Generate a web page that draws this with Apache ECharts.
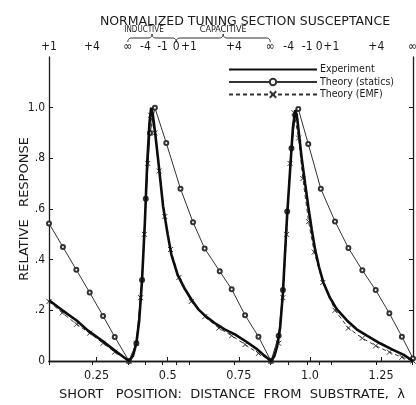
<!DOCTYPE html>
<html><head><meta charset="utf-8">
<script src="https://cdn.jsdelivr.net/npm/echarts@6/dist/echarts.min.js"></script>
<style>html,body{margin:0;padding:0;background:#fff}#c{width:416px;height:405px}</style>
</head><body><div id="c"></div>
<script>
// ---- data ----
const expX = [0.083,0.13,0.18,0.22,0.27,0.31,0.34,0.364,0.378,0.39,0.40,0.41,0.42,0.428,0.436,0.442,0.448,0.456,0.466,0.484,0.50,0.513,0.535,0.56,0.585,0.607,0.635,0.665,0.70,0.736,0.778,0.81,0.836,0.863,
  0.875,0.885,0.895,0.905,0.912,0.92,0.93,0.94,0.948,0.955,0.963,0.971,0.983,0.994,1.006,1.018,1.032,1.047,1.07,1.094,1.13,1.164,1.2,1.246,1.29,1.328,1.362];
const expY = [0.24,0.20,0.16,0.12,0.08,0.045,0.02,0.0,0.02,0.07,0.16,0.32,0.55,0.78,0.94,1.0,0.97,0.9,0.8,0.61,0.5,0.42,0.34,0.285,0.24,0.205,0.175,0.15,0.125,0.105,0.075,0.05,0.025,0.0,
  0.02,0.06,0.13,0.27,0.42,0.58,0.75,0.92,0.99,0.96,0.88,0.8,0.7,0.61,0.52,0.44,0.37,0.31,0.25,0.205,0.16,0.125,0.1,0.07,0.045,0.025,0.0];

const staticsX = [0.083,0.132,0.179,0.226,0.273,0.314,0.364,0.39,0.41,0.423,0.438,0.455,0.495,0.545,0.589,0.63,0.683,0.725,0.772,0.819,0.863,
  0.89,0.905,0.92,0.935,0.948,0.959,0.994,1.038,1.088,1.135,1.184,1.231,1.279,1.323,1.362];
const staticsY = [0.543,0.45,0.36,0.27,0.178,0.095,0.0,0.07,0.32,0.64,0.9,1.0,0.861,0.68,0.548,0.444,0.354,0.283,0.181,0.096,0.0,
  0.1,0.28,0.59,0.84,0.97,0.995,0.857,0.68,0.551,0.446,0.358,0.28,0.188,0.096,0.01];

const emfX = [0.083,0.13,0.18,0.226,0.273,0.314,0.364,0.39,0.405,0.418,0.43,0.44,0.455,0.47,0.49,0.51,0.54,0.583,0.63,0.68,0.725,0.772,0.819,0.863,
  0.89,0.905,0.918,0.93,0.944,0.96,0.975,0.995,1.015,1.045,1.088,1.135,1.184,1.231,1.279,1.323,1.362];
const emfY = [0.235,0.19,0.145,0.11,0.07,0.035,0.0,0.07,0.25,0.5,0.78,0.97,0.9,0.75,0.57,0.44,0.33,0.235,0.175,0.13,0.1,0.065,0.03,0.0,
  0.07,0.25,0.5,0.78,0.98,0.88,0.72,0.55,0.43,0.31,0.2,0.13,0.09,0.06,0.035,0.015,0.0];

const bottomTicks = [0.25,0.5,0.75,1.0,1.25];
const bottomLabels = ['0.25','0.5','0.75','1.0','1.25'];
const yTicks = [0,0.2,0.4,0.6,0.8,1.0];
const yLabels = ['0','.2','.4','.6','.8','1.0'];
const topTicks = [0.083,0.234,0.36,0.422,0.482,0.53,0.575,0.733,0.86,0.925,0.99,1.032,1.075,1.233,1.36];
const topLabels = ['+1','+4','\u221E','-4','-1','0','+1','+4','\u221E','-4','-1','0','+1','+4','\u221E'];
const inductiveSpan = [0.36,0.53];
const capacitiveSpan = [0.53,0.86];

const X_MIN = 0.083, X_MAX = 1.362, Y_MIN = 0, Y_MAX = 1.2;
const FONT = '"DejaVu Sans Condensed", "DejaVu Sans", sans-serif';
const WIDE = '"DejaVu Sans", sans-serif';
const INK = '#1a1a1a';
const THIN = '#333333';

function pairs(xs, ys){ return xs.map((x,i)=>[x, ys[i]]); }
function lookup(vals, labels, v){ for(let i=0;i<vals.length;i++){ if(Math.abs(vals[i]-v)<1e-6) return labels[i]; } return ''; }

const chart = echarts.init(document.getElementById('c'), null, {renderer:'canvas'});
const axisCommon = {
  axisLine:{show:true, lineStyle:{color:INK, width:1.3}},
  splitLine:{show:false}
};
chart.setOption({
  animation:false,
  backgroundColor:'#fff',
  title:{text:'NORMALIZED TUNING SECTION SUSCEPTANCE', left:240, top:10, textAlign:'center',
    textStyle:{fontFamily:WIDE, fontSize:12.5, fontWeight:'normal', color:INK}},
  grid:{left:49, right:3, top:57, bottom:44, containLabel:false, outerBoundsMode:'none'},
  legend:{
    orient:'vertical', left:228, top:64, padding:0, itemWidth:88, itemHeight:8, itemGap:1.5,
    textStyle:{fontFamily:FONT, fontSize:10.5, color:INK, padding:[0,0,0,-2]},
    data:[{name:'Experiment', itemStyle:{opacity:0}},'Theory (statics)','Theory (EMF)']
  },
  xAxis:[
    Object.assign({type:'value', position:'bottom', min:X_MIN, max:X_MAX,
      name:'SHORT   POSITION:  DISTANCE  FROM  SUBSTRATE,  \u03BB', nameLocation:'middle', nameGap:27,
      nameTextStyle:{fontFamily:WIDE, fontSize:13, color:INK, padding:[0,0,0,2]},
      axisTick:{show:true, inside:true, length:4, customValues:bottomTicks, lineStyle:{color:INK}},
      axisLabel:{show:true, customValues:bottomTicks, margin:8, fontFamily:FONT, fontSize:12.5, color:INK,
        formatter:(v)=>lookup(bottomTicks,bottomLabels,v)}
    }, axisCommon),
    Object.assign({type:'value', position:'top', min:X_MIN, max:X_MAX,
      axisTick:{show:true, inside:true, length:4, customValues:topTicks, lineStyle:{color:INK}},
      axisLabel:{show:true, customValues:topTicks, margin:4, fontFamily:FONT, fontSize:12, color:INK,
        showMinLabel:true, showMaxLabel:true, hideOverlap:false,
        formatter:(v)=>lookup(topTicks,topLabels,v)}
    }, axisCommon)
  ],
  yAxis:[
    Object.assign({type:'value', position:'left', min:Y_MIN, max:Y_MAX,
      name:'RELATIVE   RESPONSE', nameLocation:'middle', nameGap:18, nameRotate:90, nameMoveOverlap:false,
      nameTextStyle:{fontFamily:WIDE, fontSize:13, color:INK},
      axisTick:{show:true, inside:true, length:4, customValues:yTicks, lineStyle:{color:INK}},
      axisLabel:{show:true, customValues:yTicks, margin:4, fontFamily:FONT, fontSize:12, color:INK,
        formatter:(v)=>lookup(yTicks,yLabels,v)}
    }, axisCommon),
    Object.assign({type:'value', position:'right', min:Y_MIN, max:Y_MAX,
      axisTick:{show:true, inside:true, length:4, customValues:yTicks, lineStyle:{color:INK}},
      axisLabel:{show:false}
    }, axisCommon)
  ],
  series:[
    {name:'Experiment', type:'line', data:pairs(expX,expY), showSymbol:false, symbol:'none',
      lineStyle:{color:'#0d0d0d', width:2.6}, itemStyle:{color:'#0d0d0d'}, z:4},
    {name:'Theory (statics)', type:'line', data:pairs(staticsX,staticsY), symbol:'emptyCircle', symbolSize:4,
      showSymbol:true, showAllSymbol:true, lineStyle:{color:THIN, width:1},
      itemStyle:{color:THIN, borderWidth:0.8}, z:3},
    {name:'Theory (EMF)', type:'line', data:pairs(emfX,emfY), symbol:'path://M0,0L10,10M10,0L0,10', symbolSize:5,
      showSymbol:true, showAllSymbol:true, lineStyle:{color:THIN, width:1, type:[4,3]},
      itemStyle:{color:'transparent', borderColor:THIN, borderWidth:1}, z:3}
  ]
});

// braces with labels above the top axis, positioned through the axis scale
function quad(p0, p1, p2, n){
  const out = [];
  for(let i=1;i<=n;i++){ const t=i/n, u=1-t;
    out.push([u*u*p0[0]+2*u*t*p1[0]+t*t*p2[0], u*u*p0[1]+2*u*t*p1[1]+t*t*p2[1]]); }
  return out;
}
function brace(a, b, yLine){
  const pa = chart.convertToPixel({xAxisIndex:1}, a);
  const pb = chart.convertToPixel({xAxisIndex:1}, b);
  const m = (pa+pb)/2, yb = yLine+4, yt = yLine, yp = yLine-4;
  let pts = [[pa,yb]];
  pts = pts.concat(quad([pa,yb],[pa,yt],[pa+4,yt],5));
  pts.push([m-4,yt]);
  pts = pts.concat(quad([m-4,yt],[m,yt],[m,yp],5));
  pts = pts.concat(quad([m,yp],[m,yt],[m+4,yt],5));
  pts.push([pb-4,yt]);
  pts = pts.concat(quad([pb-4,yt],[pb,yt],[pb,yb],5));
  return {m, pts};
}
const bi = brace(inductiveSpan[0], inductiveSpan[1], 38);
const bc = brace(capacitiveSpan[0], capacitiveSpan[1], 38);
chart.setOption({
  graphic:[
    {type:'polyline', shape:{points:bi.pts}, style:{fill:null, stroke:INK, lineWidth:0.9}},
    {type:'polyline', shape:{points:bc.pts}, style:{fill:null, stroke:INK, lineWidth:0.9}},
    {type:'text', x:bi.m-8, y:30, style:{text:'INDUCTIVE', font:'8px '+FONT, fill:INK, align:'center', verticalAlign:'middle'}},
    {type:'text', x:bc.m, y:30, style:{text:'CAPACITIVE', font:'9px '+FONT, fill:INK, align:'center', verticalAlign:'middle'}}
  ]
});
</script>
</body></html>
